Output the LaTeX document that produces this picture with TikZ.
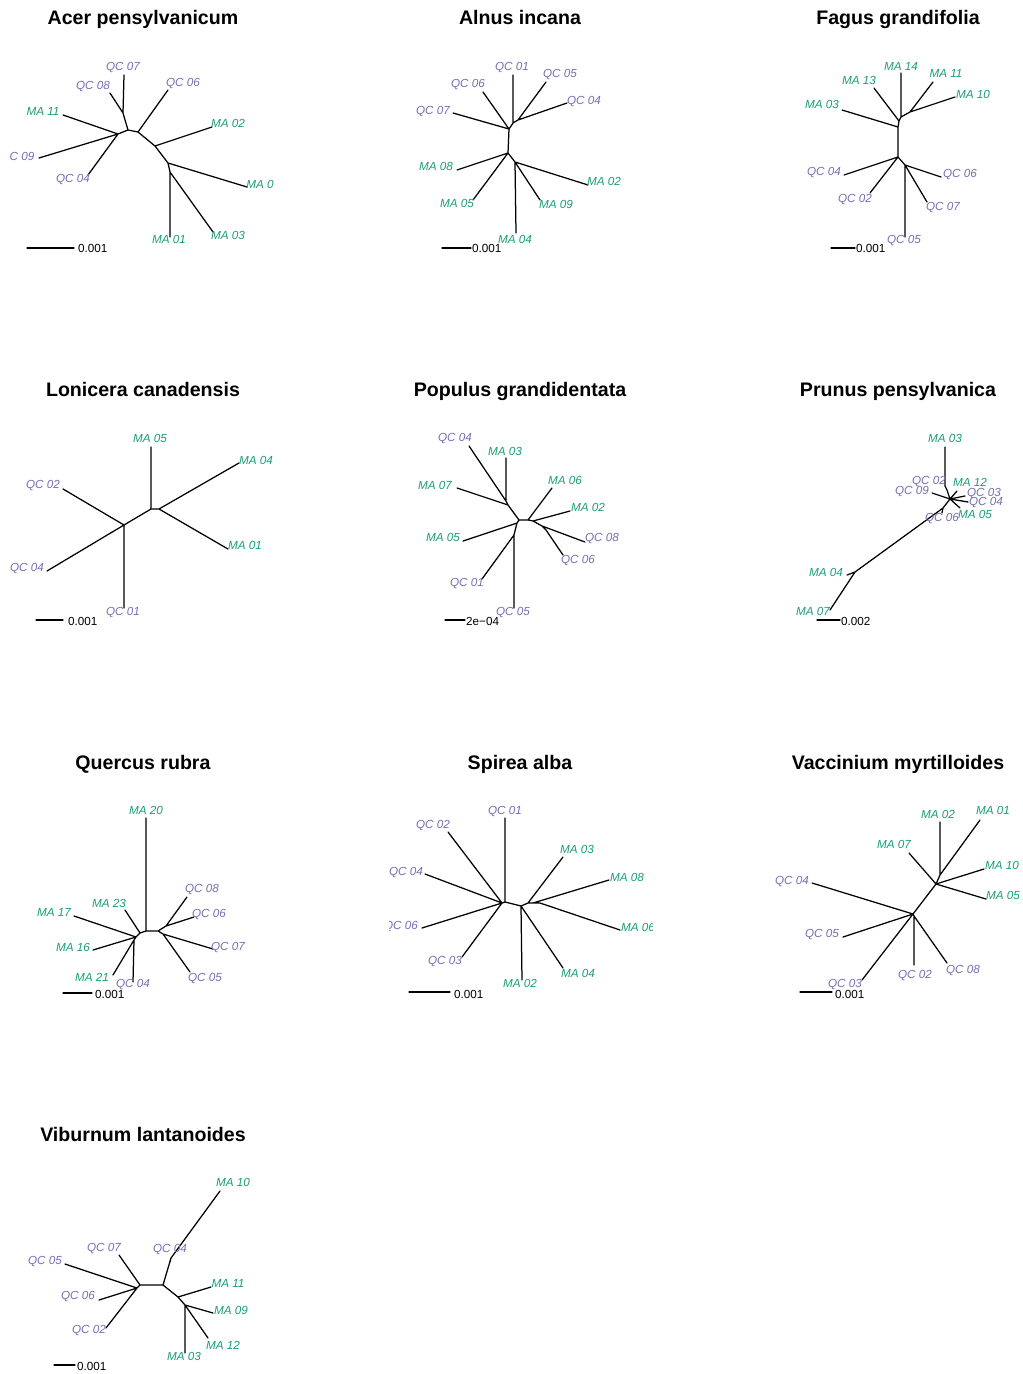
\documentclass[tikz,border=0pt]{standalone}
\usepackage{fontspec}
\setmainfont{Liberation Sans}
\definecolor{magreen}{HTML}{1B9E77}
\definecolor{qcpurple}{HTML}{7570B3}
\tikzset{
  br/.style={line width=1.25pt, line cap=round, line join=round, black},
  lab/.style={font=\fontsize{11.7}{12}\selectfont\itshape, inner sep=0pt, anchor=center},
  ma/.style={lab, text=magreen},
  qc/.style={lab, text=qcpurple, yshift=-1.2pt},
  ttl/.style={font=\fontsize{19.6}{22}\selectfont\bfseries, inner sep=0pt, anchor=base},
  sclab/.style={font=\fontsize{11.7}{12}\selectfont, inner sep=0pt, anchor=west},
}
\begin{document}
\begin{tikzpicture}[x=1pt,y=-1pt]
\fill[white] (0,0) rectangle (1023,1374);
\useasboundingbox (0,0) rectangle (1023,1374);

% ================= Panel 1: Acer pensylvanicum
\node[ttl] (A-title) at (143,24) {Acer pensylvanicum};
\coordinate (A-n1) at (118,134);
\coordinate (A-n2) at (128,130);
\coordinate (A-n3) at (138,132);
\coordinate (A-n4) at (155,146);
\coordinate (A-n5) at (168,163);
\coordinate (A-n6) at (170,172);
\coordinate (A-n7) at (123,113);
\coordinate (A-QC07) at (124,75);
\coordinate (A-QC08) at (110,93);
\coordinate (A-QC06) at (168,90);
\coordinate (A-MA11) at (63,115);
\coordinate (A-C09) at (39,158);
\coordinate (A-QC04) at (88,175);
\coordinate (A-MA02) at (212,127);
\coordinate (A-MA0) at (247,187);
\coordinate (A-MA01) at (170,237);
\coordinate (A-MA03) at (213,232);
\draw[br] (A-n1) -- (A-n2) -- (A-n3) -- (A-n4) -- (A-n5) -- (A-n6)
  (A-n2) -- (A-n7) -- (A-QC07) (A-n7) -- (A-QC08)
  (A-n3) -- (A-QC06) (A-n1) -- (A-MA11) (A-n1) -- (A-C09) (A-n1) -- (A-QC04)
  (A-n4) -- (A-MA02) (A-n5) -- (A-MA0) (A-n6) -- (A-MA01) (A-n6) -- (A-MA03);
\node[qc] (A-lQC07) at (123,66) {QC 07};
\node[qc] (A-lQC08) at (93,85) {QC 08};
\node[qc] (A-lQC06) at (183,82) {QC 06};
\node[ma] (A-lMA11) at (43,111) {MA 11};
\node[qc] (A-lC09) at (22,155) {C 09};
\node[qc] (A-lQC04) at (73,178) {QC 04};
\node[ma] (A-lMA02) at (228,123) {MA 02};
\node[ma] (A-lMA0) at (260,184) {MA 0};
\node[ma] (A-lMA01) at (169,239) {MA 01};
\node[ma] (A-lMA03) at (228,235) {MA 03};
\coordinate (A-s1) at (27,248); \coordinate (A-s2) at (74,248);
\draw[br] (A-s1) -- (A-s2);
\node[sclab] (A-sl) at (78,248) {0.001};

% ================= Panel 2: Alnus incana
\node[ttl] (B-title) at (520,24) {Alnus incana};
\coordinate (B-n1) at (518,120);
\coordinate (B-n2) at (513,123);
\coordinate (B-n3) at (509,129);
\coordinate (B-n4) at (508,153);
\coordinate (B-n5) at (515,162);
\coordinate (B-QC05) at (546,82);
\coordinate (B-QC04) at (567,103);
\coordinate (B-QC01) at (513,75);
\coordinate (B-QC06) at (483,92);
\coordinate (B-QC07) at (453,113);
\coordinate (B-MA08) at (457,170);
\coordinate (B-MA05) at (473,200);
\coordinate (B-MA02) at (588,185);
\coordinate (B-MA09) at (540,200);
\coordinate (B-MA04) at (516,233);
\draw[br] (B-n1) -- (B-n2) -- (B-n3) -- (B-n4) -- (B-n5)
  (B-n1) -- (B-QC05) (B-n1) -- (B-QC04) (B-n2) -- (B-QC01)
  (B-n3) -- (B-QC06) (B-n3) -- (B-QC07)
  (B-n4) -- (B-MA08) (B-n4) -- (B-MA05)
  (B-n5) -- (B-MA02) (B-n5) -- (B-MA09) (B-n5) -- (B-MA04);
\node[qc] (B-lQC01) at (512,66) {QC 01};
\node[qc] (B-lQC05) at (560,73) {QC 05};
\node[qc] (B-lQC04) at (584,100) {QC 04};
\node[qc] (B-lQC06) at (468,83) {QC 06};
\node[qc] (B-lQC07) at (433,110) {QC 07};
\node[ma] (B-lMA08) at (436,166) {MA 08};
\node[ma] (B-lMA05) at (457,203) {MA 05};
\node[ma] (B-lMA02) at (604,181) {MA 02};
\node[ma] (B-lMA09) at (556,204) {MA 09};
\node[ma] (B-lMA04) at (515,239) {MA 04};
\coordinate (B-s1) at (442,248); \coordinate (B-s2) at (471,248);
\draw[br] (B-s1) -- (B-s2);
\node[sclab] (B-sl) at (472,248) {0.001};

% ================= Panel 3: Fagus grandifolia
\node[ttl] (C-title) at (898,24) {Fagus grandifolia};
\coordinate (C-n1) at (910,112);
\coordinate (C-n2) at (901,117);
\coordinate (C-n3) at (899,121);
\coordinate (C-n4) at (898,127);
\coordinate (C-n5) at (898,157);
\coordinate (C-n6) at (905,165);
\coordinate (C-MA11) at (933,82);
\coordinate (C-MA10) at (955,97);
\coordinate (C-MA14) at (901,73);
\coordinate (C-MA13) at (874,88);
\coordinate (C-MA03) at (842,110);
\coordinate (C-QC04) at (844,175);
\coordinate (C-QC02) at (870,193);
\coordinate (C-QC06) at (941,177);
\coordinate (C-QC07) at (927,202);
\coordinate (C-QC05) at (905,237);
\draw[br] (C-n1) -- (C-n2) -- (C-n3) -- (C-n4) -- (C-n5) -- (C-n6)
  (C-n1) -- (C-MA11) (C-n1) -- (C-MA10) (C-n2) -- (C-MA14)
  (C-n3) -- (C-MA13) (C-n4) -- (C-MA03)
  (C-n5) -- (C-QC04) (C-n5) -- (C-QC02)
  (C-n6) -- (C-QC06) (C-n6) -- (C-QC07) (C-n6) -- (C-QC05);
\node[ma] (C-lMA14) at (901,66) {MA 14};
\node[ma] (C-lMA11) at (946,73) {MA 11};
\node[ma] (C-lMA10) at (973,94) {MA 10};
\node[ma] (C-lMA13) at (859,80) {MA 13};
\node[ma] (C-lMA03) at (822,104) {MA 03};
\node[qc] (C-lQC04) at (824,171) {QC 04};
\node[qc] (C-lQC02) at (855,198) {QC 02};
\node[qc] (C-lQC06) at (960,173) {QC 06};
\node[qc] (C-lQC07) at (943,206) {QC 07};
\node[qc] (C-lQC05) at (904,239) {QC 05};
\coordinate (C-s1) at (831,248); \coordinate (C-s2) at (855,248);
\draw[br] (C-s1) -- (C-s2);
\node[sclab] (C-sl) at (856,248) {0.001};

% ================= Panel 4: Lonicera canadensis
\node[ttl] (D-title) at (143,396) {Lonicera canadensis};
\coordinate (D-n1) at (151,509);
\coordinate (D-n2) at (159,509);
\coordinate (D-n3) at (124,525);
\coordinate (D-MA05) at (151,447);
\coordinate (D-MA04) at (239,463);
\coordinate (D-MA01) at (228,549);
\coordinate (D-QC02) at (63,489);
\coordinate (D-QC04) at (47,571);
\coordinate (D-QC01) at (124,608);
\draw[br] (D-MA05) -- (D-n1) -- (D-n2) -- (D-MA04) (D-n2) -- (D-MA01)
  (D-n1) -- (D-n3) -- (D-QC02) (D-n3) -- (D-QC04) (D-n3) -- (D-QC01);
\node[ma] (D-lMA05) at (150,438) {MA 05};
\node[ma] (D-lMA04) at (256,460) {MA 04};
\node[ma] (D-lMA01) at (245,545) {MA 01};
\node[qc] (D-lQC02) at (43,484) {QC 02};
\node[qc] (D-lQC04) at (27,567) {QC 04};
\node[qc] (D-lQC01) at (123,611) {QC 01};
\coordinate (D-s1) at (36,620); \coordinate (D-s2) at (63,620);
\draw[br] (D-s1) -- (D-s2);
\node[sclab] (D-sl) at (68,621) {0.001};

% ================= Panel 5: Populus grandidentata
\node[ttl] (E-title) at (520,396) {Populus grandidentata};
\coordinate (E-n0) at (506,501);
\coordinate (E-n1) at (508,505);
\coordinate (E-n2) at (519,520);
\coordinate (E-n3) at (528,520);
\coordinate (E-n4) at (533,521);
\coordinate (E-n5) at (542,526);
\coordinate (E-n6) at (546,530);
\coordinate (E-n8) at (517,523);
\coordinate (E-n7) at (514,535);
\coordinate (E-QC04) at (469,446);
\coordinate (E-MA03) at (506,458);
\coordinate (E-MA07) at (457,488);
\coordinate (E-MA06) at (552,488);
\coordinate (E-MA02) at (570,511);
\coordinate (E-QC08) at (585,542);
\coordinate (E-QC06) at (563,555);
\coordinate (E-MA05) at (463,541);
\coordinate (E-QC01) at (482,579);
\coordinate (E-QC05) at (514,608);
\draw[br] (E-QC04) -- (E-n0) -- (E-n1) -- (E-n2) -- (E-n3) -- (E-n4) -- (E-n5) -- (E-n6)
  (E-n0) -- (E-MA03) (E-n1) -- (E-MA07)
  (E-n3) -- (E-MA06) (E-n4) -- (E-MA02) (E-n5) -- (E-QC08) (E-n6) -- (E-QC06)
  (E-n2) -- (E-n8) -- (E-MA05) (E-n8) -- (E-n7) -- (E-QC01) (E-n7) -- (E-QC05);
\node[qc] (E-lQC04) at (455,437) {QC 04};
\node[ma] (E-lMA03) at (505,451) {MA 03};
\node[ma] (E-lMA07) at (435,485) {MA 07};
\node[ma] (E-lMA06) at (565,480) {MA 06};
\node[ma] (E-lMA02) at (588,507) {MA 02};
\node[qc] (E-lQC08) at (602,537) {QC 08};
\node[qc] (E-lQC06) at (578,559) {QC 06};
\node[ma] (E-lMA05) at (443,537) {MA 05};
\node[qc] (E-lQC01) at (467,582) {QC 01};
\node[qc] (E-lQC05) at (513,611) {QC 05};
\coordinate (E-s1) at (445,620); \coordinate (E-s2) at (465,620);
\draw[br] (E-s1) -- (E-s2);
\node[sclab] (E-sl) at (466,621) {2e\char"2212 04};

% ================= Panel 6: Prunus pensylvanica
\node[ttl] (F-title) at (898,396) {Prunus pensylvanica};
\coordinate (F-MA03) at (945,447);
\coordinate (F-n2) at (945,486);
\coordinate (F-n3) at (947,490);
\coordinate (F-n1) at (950,499);
\coordinate (F-n4) at (943,508);
\coordinate (F-QC06) at (942,513);
\coordinate (F-QC09) at (932,493);
\coordinate (F-MA12) at (957,491);
\coordinate (F-QC03) at (965,496);
\coordinate (F-QC04) at (968,502);
\coordinate (F-MA05) at (960,508);
\coordinate (F-n5) at (855,572);
\coordinate (F-MA04) at (847,575);
\coordinate (F-MA07) at (830,610);
\draw[br] (F-MA03) -- (F-n2) -- (F-n3) -- (F-n1) -- (F-n4) -- (F-n5) -- (F-MA07)
  (F-n4) -- (F-QC06) (F-n5) -- (F-MA04)
  (F-n1) -- (F-QC09) (F-n1) -- (F-MA12) (F-n1) -- (F-QC03) (F-n1) -- (F-QC04) (F-n1) -- (F-MA05);
\node[ma] (F-lMA03) at (945,438) {MA 03};
\node[qc] (F-lQC02) at (929,480) {QC 02};
\node[qc] (F-lQC09) at (912,490) {QC 09};
\node[ma] (F-lMA12) at (970,482) {MA 12};
\node[qc] (F-lQC03) at (984,492) {QC 03};
\node[qc] (F-lQC04) at (986,501) {QC 04};
\node[ma] (F-lMA05) at (975,514) {MA 05};
\node[qc] (F-lQC06) at (942,517) {QC 06};
\node[ma] (F-lMA04) at (826,572) {MA 04};
\node[ma] (F-lMA07) at (813,611) {MA 07};
\coordinate (F-s1) at (817,620); \coordinate (F-s2) at (840,620);
\draw[br] (F-s1) -- (F-s2);
\node[sclab] (F-sl) at (841,621) {0.002};

% ================= Panel 7: Quercus rubra
\node[ttl] (G-title) at (143,769) {Quercus rubra};
\coordinate (G-n1) at (146,931);
\coordinate (G-n2) at (158,931);
\coordinate (G-n4) at (166,926);
\coordinate (G-n3) at (163,934);
\coordinate (G-n5) at (140,933);
\coordinate (G-n6) at (136,937);
\coordinate (G-n7) at (134,940);
\coordinate (G-MA20) at (146,818);
\coordinate (G-QC08) at (187,897);
\coordinate (G-QC06) at (194,917);
\coordinate (G-QC07) at (213,949);
\coordinate (G-QC05) at (190,972);
\coordinate (G-MA23) at (125,910);
\coordinate (G-MA17) at (74,916);
\coordinate (G-MA16) at (93,950);
\coordinate (G-MA21) at (113,975);
\coordinate (G-QC04) at (133,982);
\draw[br] (G-MA20) -- (G-n1) -- (G-n2) -- (G-n4) -- (G-QC08) (G-n4) -- (G-QC06)
  (G-n2) -- (G-n3) -- (G-QC07) (G-n3) -- (G-QC05)
  (G-n1) -- (G-n5) -- (G-MA23) (G-n5) -- (G-n6) -- (G-MA17) (G-n6) -- (G-MA16)
  (G-n6) -- (G-n7) -- (G-MA21) (G-n7) -- (G-QC04);
\node[ma] (G-lMA20) at (146,810) {MA 20};
\node[qc] (G-lQC08) at (202,888) {QC 08};
\node[qc] (G-lQC06) at (209,913) {QC 06};
\node[qc] (G-lQC07) at (228,946) {QC 07};
\node[qc] (G-lQC05) at (205,977) {QC 05};
\node[ma] (G-lMA23) at (109,903) {MA 23};
\node[ma] (G-lMA17) at (54,912) {MA 17};
\node[ma] (G-lMA16) at (73,947) {MA 16};
\node[ma] (G-lMA21) at (92,977) {MA 21};
\node[qc] (G-lQC04) at (133,983) {QC 04};
\coordinate (G-s1) at (63,993); \coordinate (G-s2) at (92,993);
\draw[br] (G-s1) -- (G-s2);
\node[sclab] (G-sl) at (95,994) {0.001};

% ================= Panel 8: Spirea alba
\node[ttl] (H-title) at (520,769) {Spirea alba};
\begin{scope}
\clip (389.5,780) rectangle (652,1010);
\coordinate (H-n0) at (502,903);
\coordinate (H-n1) at (505,902);
\coordinate (H-n2) at (521,906);
\coordinate (H-n3) at (528,903);
\coordinate (H-n4) at (533,903);
\coordinate (H-n5) at (540,903);
\coordinate (H-QC01) at (505,818);
\coordinate (H-QC02) at (448,832);
\coordinate (H-QC04) at (425,874);
\coordinate (H-QC06) at (422,928);
\coordinate (H-QC03) at (462,957);
\coordinate (H-MA02) at (522,980);
\coordinate (H-MA04) at (563,968);
\coordinate (H-MA03) at (563,857);
\coordinate (H-MA08) at (609,880);
\coordinate (H-MA06) at (620,930);
\draw[br] (H-QC01) -- (H-n1) -- (H-n0) (H-n1) -- (H-n2) -- (H-n3) -- (H-n4) -- (H-n5)
  (H-n0) -- (H-QC02) (H-n0) -- (H-QC04) (H-n0) -- (H-QC06) (H-n0) -- (H-QC03)
  (H-n2) -- (H-MA02) (H-n2) -- (H-MA04) (H-n3) -- (H-MA03) (H-n4) -- (H-MA08) (H-n5) -- (H-MA06);
\node[qc] (H-lQC01) at (505,810) {QC 01};
\node[qc] (H-lQC02) at (433,824) {QC 02};
\node[qc] (H-lQC04) at (406,871) {QC 04};
\node[qc] (H-lQC06) at (401,925) {QC 06};
\node[qc] (H-lQC03) at (445,960) {QC 03};
\node[ma] (H-lMA02) at (520,983) {MA 02};
\node[ma] (H-lMA04) at (578,973) {MA 04};
\node[ma] (H-lMA03) at (577,849) {MA 03};
\node[ma] (H-lMA08) at (627,877) {MA 08};
\node[ma] (H-lMA06) at (638,927) {MA 06};
\end{scope}
\coordinate (H-s1) at (409,992); \coordinate (H-s2) at (450,992);
\draw[br] (H-s1) -- (H-s2);
\node[sclab] (H-sl) at (454,994) {0.001};

% ================= Panel 9: Vaccinium myrtilloides
\node[ttl] (I-title) at (898,769) {Vaccinium myrtilloides};
\coordinate (I-n1) at (940,875);
\coordinate (I-n2) at (936,884);
\coordinate (I-n3) at (913,914);
\coordinate (I-n4) at (914,916);
\coordinate (I-MA02) at (940,822);
\coordinate (I-MA01) at (980,820);
\coordinate (I-MA07) at (909,853);
\coordinate (I-MA10) at (984,869);
\coordinate (I-MA05) at (986,899);
\coordinate (I-QC04) at (812,883);
\coordinate (I-QC05) at (843,937);
\coordinate (I-QC03) at (862,980);
\coordinate (I-QC02) at (914,965);
\coordinate (I-QC08) at (947,963);
\draw[br] (I-MA02) -- (I-n1) -- (I-MA01) (I-n1) -- (I-n2) -- (I-n3) -- (I-n4)
  (I-n2) -- (I-MA07) (I-n2) -- (I-MA10) (I-n2) -- (I-MA05)
  (I-n3) -- (I-QC04) (I-n3) -- (I-QC05) (I-n3) -- (I-QC03)
  (I-n4) -- (I-QC02) (I-n4) -- (I-QC08);
\node[ma] (I-lMA02) at (938,814) {MA 02};
\node[ma] (I-lMA01) at (993,810) {MA 01};
\node[ma] (I-lMA07) at (894,844) {MA 07};
\node[ma] (I-lMA10) at (1002,865) {MA 10};
\node[ma] (I-lMA05) at (1003,895) {MA 05};
\node[qc] (I-lQC04) at (792,880) {QC 04};
\node[qc] (I-lQC05) at (822,933) {QC 05};
\node[qc] (I-lQC03) at (845,983) {QC 03};
\node[qc] (I-lQC02) at (915,974) {QC 02};
\node[qc] (I-lQC08) at (963,969) {QC 08};
\coordinate (I-s1) at (800,992); \coordinate (I-s2) at (832,992);
\draw[br] (I-s1) -- (I-s2);
\node[sclab] (I-sl) at (835,994) {0.001};

% ================= Panel 10: Viburnum lantanoides
\node[ttl] (J-title) at (143,1141) {Viburnum lantanoides};
\coordinate (J-n1) at (171,1258);
\coordinate (J-n2) at (163,1285);
\coordinate (J-n3) at (140,1285);
\coordinate (J-n4) at (137,1288);
\coordinate (J-n5) at (178,1297);
\coordinate (J-n6) at (185,1305);
\coordinate (J-MA10) at (220,1191);
\coordinate (J-QC04) at (170,1262);
\coordinate (J-QC07) at (119,1255);
\coordinate (J-QC05) at (65,1264);
\coordinate (J-QC06) at (99,1300);
\coordinate (J-QC02) at (106,1328);
\coordinate (J-MA11) at (211,1287);
\coordinate (J-MA09) at (213,1313);
\coordinate (J-MA12) at (208,1338);
\coordinate (J-MA03) at (185,1353);
\draw[br] (J-MA10) -- (J-n1) -- (J-n2) -- (J-n3) -- (J-n4) (J-n1) -- (J-QC04)
  (J-n3) -- (J-QC07) (J-n4) -- (J-QC05) (J-n4) -- (J-QC06) (J-n4) -- (J-QC02)
  (J-n2) -- (J-n5) -- (J-n6) (J-n5) -- (J-MA11)
  (J-n6) -- (J-MA09) (J-n6) -- (J-MA12) (J-n6) -- (J-MA03);
\node[ma] (J-lMA10) at (233,1182) {MA 10};
\node[qc] (J-lQC04) at (170,1248) {QC 04};
\node[qc] (J-lQC07) at (104,1247) {QC 07};
\node[qc] (J-lQC05) at (45,1260) {QC 05};
\node[qc] (J-lQC06) at (78,1295) {QC 06};
\node[qc] (J-lQC02) at (89,1329) {QC 02};
\node[ma] (J-lMA11) at (228,1283) {MA 11};
\node[ma] (J-lMA09) at (231,1310) {MA 09};
\node[ma] (J-lMA12) at (223,1345) {MA 12};
\node[ma] (J-lMA03) at (184,1356) {MA 03};
\coordinate (J-s1) at (54,1365); \coordinate (J-s2) at (75,1365);
\draw[br] (J-s1) -- (J-s2);
\node[sclab] (J-sl) at (77,1366) {0.001};
\end{tikzpicture}
\end{document}
